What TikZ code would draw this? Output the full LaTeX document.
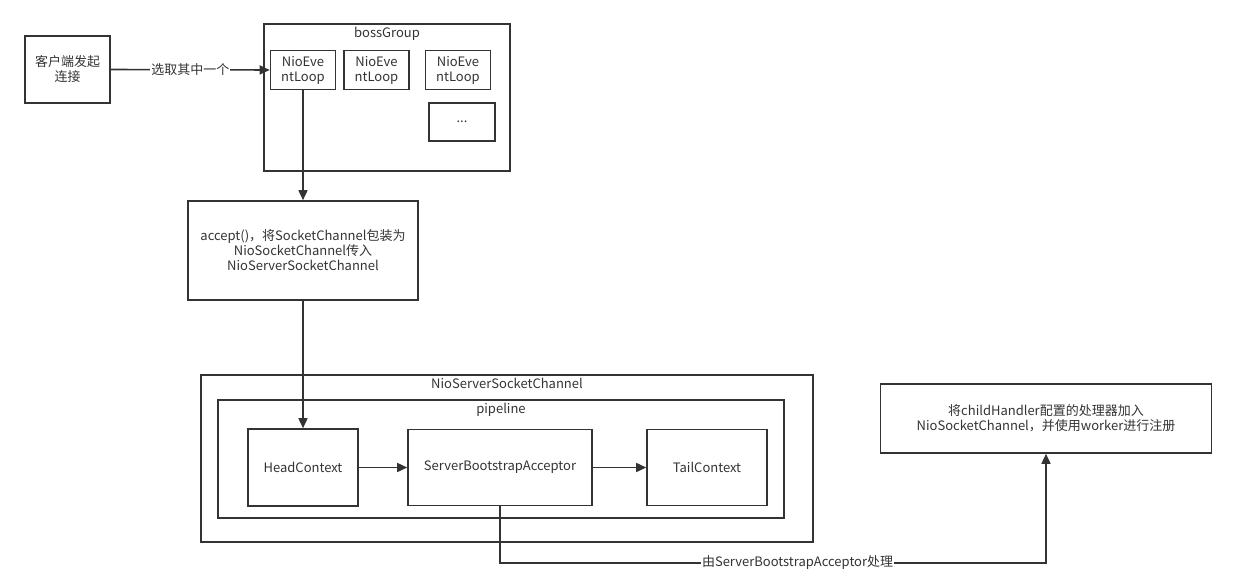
\documentclass[tikz,border=0pt]{standalone}
\usepackage{fontspec}
\setmainfont{Noto Sans CJK SC}
\usetikzlibrary{arrows.meta}
\definecolor{ink}{HTML}{333333}
\begin{document}
\begin{tikzpicture}[
    x=1pt, y=-1pt,
    font=\fontsize{13}{15}\selectfont,
    every node/.style={text=ink},
    box/.style={draw=ink, line width=1.6pt, inner sep=2pt, align=center},
    title/.style={anchor=north, inner sep=0pt, yshift=-4pt},
    arr/.style={draw=ink, line width=1.6pt, -{Triangle[length=10pt,width=9pt]}},
    lbl/.style={fill=white, inner sep=1pt}
  ]
  \useasboundingbox (0,0) rectangle (1236,588);
  % client
  \node[box, minimum width=85pt, minimum height=67pt] (client) at (67.5,69.5) {客户端发起\\连接};
  % boss group
  \node[box, minimum width=246pt, minimum height=147pt] (boss) at (387,97.5) {};
  \node[title] (bosstitle) at (boss.north) {bossGroup};
  \foreach \n/\x in {1/303, 2/376.5, 3/458}
    \node[box, minimum width=65pt, minimum height=39pt, inner sep=0pt] (loop\n) at (\x,70) {NioEve\\ntLoop};
  \node[box, minimum width=66pt, minimum height=38pt] (dots) at (462,122) {...};
  % accept
  \node[box, minimum width=230pt, minimum height=99pt] (accept) at (303,250.5)
    {accept()，将SocketChannel包装为\\NioSocketChannel传入\\NioServerSocketChannel};
  % server channel and pipeline
  \node[box, minimum width=612pt, minimum height=167pt] (nssc) at (507,458.5) {};
  \node[title] (nssctitle) at (nssc.north) {NioServerSocketChannel};
  \node[box, minimum width=566pt, minimum height=118pt] (pipe) at (501,459) {};
  \node[title] (pipetitle) at (pipe.north) {pipeline};
  \node[box, minimum width=110pt, minimum height=77pt] (head) at (303,467.5) {HeadContext};
  \node[box, minimum width=184pt, minimum height=76pt] (sba) at (500,467.5) {ServerBootstrapAcceptor};
  \node[box, minimum width=120pt, minimum height=76pt] (tail) at (707,467.5) {TailContext};
  % child handler
  \node[box, minimum width=331pt, minimum height=69pt] (child) at (1046,418.5)
    {将childHandler配置的处理器加入\\NioSocketChannel，并使用worker进行注册};
  \coordinate (down) at (500,563);
  \coordinate (up) at (1046,563);
  % connectors
  \draw[arr] (client.east) -- node[lbl] {选取其中一个} (loop1.west);
  \draw[arr] (loop1.south) -- (accept.north);
  \draw[arr] (accept.south) -- (head.north);
  \draw[arr] (head.east) -- (sba.west);
  \draw[arr] (sba.east) -- (tail.west);
  \draw[arr] (sba.south) -- (down) -- node[lbl, pos=0.545] {由ServerBootstrapAcceptor处理} (up) -- (child.south);
\end{tikzpicture}
\end{document}
